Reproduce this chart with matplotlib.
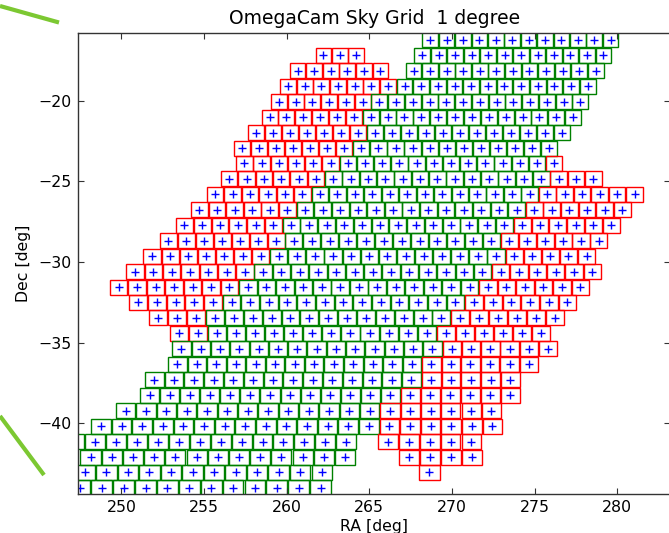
import numpy as np
import matplotlib
matplotlib.use("Agg")
import matplotlib.pyplot as plt
from matplotlib.patches import Rectangle
from matplotlib.lines import Line2D

# Sky grid rows: centre declination, RA of the first tile, and one code per tile
# ('r' / 'g' = tile outline colour, '.' = no tile at that grid position)
tile_dec = [
    -16.23, -17.19, -18.15, -19.10, -20.06, -21.02, -21.98, -22.94, -23.89, -24.85,
    -25.81, -26.77, -27.72, -28.68, -29.64, -30.60, -31.56, -32.51, -33.47, -34.43,
    -35.39, -36.35, -37.30, -38.26, -39.22, -40.18, -41.13, -42.09, -43.05, -44.01,
]
tile_ra_first = [
    268.685, 262.220, 260.662, 260.080, 259.530, 258.970, 258.153, 257.281, 257.447, 256.525,
    255.671, 254.716, 253.819, 252.847, 251.856, 250.833, 249.836, 251.020, 252.243, 253.472,
    253.637, 253.391, 251.994, 251.717, 250.271, 248.772, 247.164, 248.137, 247.792, 247.494,
]
tile_codes = [
    "g" * 12,
    "r" * 3 + "." * 3 + "g" * 12,
    "r" * 6 + "." + "g" * 12,
    "r" * 7 + "g" * 12,
    "r" * 6 + "g" * 13,
    "r" * 6 + "g" * 13,
    "r" * 7 + "g" * 12,
    "r" * 7 + "g" * 12,
    "r" * 6 + "g" * 12 + "r",
    "r" * 6 + "g" * 13 + "r" * 3,
    "r" * 6 + "g" * 13 + "r" * 6,
    "r" * 6 + "g" * 13 + "r" * 6,
    "r" * 6 + "g" * 13 + "r" * 6,
    "r" * 7 + "g" * 12 + "r" * 6,
    "r" * 7 + "g" * 13 + "r" * 5,
    "r" * 7 + "g" * 13 + "r" * 6,
    "r" * 7 + "g" * 13 + "r" * 6,
    "r" * 5 + "g" * 13 + "r" * 6,
    "r" * 3 + "g" * 13 + "r" * 6,
    "r" * 2 + "g" * 12 + "r" * 6,
    "g" * 14 + "r" * 6,
    "g" * 13 + "r" * 6,
    "g" * 14 + "r" * 5,
    "g" * 13 + "r" * 6,
    "g" * 13 + "r" * 6,
    "g" * 14 + "r" * 6,
    "g" * 14 + "." + "r" * 5,
    "g" * 13 + ".." + "r" * 4,
    "g" * 12 + "...." + "r",
    "g" * 12,
]

TILE_SIZE = 0.952          # tile side on the sky, degrees
BOX_FRAC_W = 0.95          # drawn outline width relative to RA spacing
BOX_H = 0.93               # drawn outline height, degrees
edge_colours = {"r": (1.0, 0.0, 0.0), "g": (0.0, 0.5, 0.0)}

xticks = [250, 255, 260, 265, 270, 275, 280]
yticks = [-20, -25, -30, -35, -40]

W, H = 669, 533
fig = plt.figure(figsize=(W / 100, H / 100), dpi=100)
fig.patch.set_facecolor("white")
ax = fig.add_axes([78.3 / W, 1 - 494 / H, (670 - 78.3) / W, (494 - 33.3) / H])

centres_ra, centres_dec = [], []
for dec, ra0, codes in zip(tile_dec, tile_ra_first, tile_codes):
    step = TILE_SIZE / np.cos(np.radians(dec))
    for i, c in enumerate(codes):
        if c == ".":
            continue
        ra = ra0 + i * step
        w = step * BOX_FRAC_W
        ax.add_patch(Rectangle((ra - w / 2, dec - BOX_H / 2), w, BOX_H,
                               fill=False, edgecolor=edge_colours[c], linewidth=1.0))
        centres_ra.append(ra)
        centres_dec.append(dec)

ax.plot(centres_ra, centres_dec, linestyle="none", marker="+", color="blue",
        markersize=5.5, markeredgewidth=1.0)

ax.set_xlim(247.396, 283.19)
ax.set_ylim(-44.383, -15.822)
ax.set_xticks(xticks)
ax.set_yticks(yticks)
ax.tick_params(direction="in", length=4, top=True, right=True, labelsize=11.3,
               color="#333333")
ax.tick_params(axis="x", pad=4)
ax.tick_params(axis="y", pad=5)
for sp in ax.spines.values():
    sp.set_color("#333333")
    sp.set_linewidth(1.0)

ax.set_xlabel("RA [deg]", fontsize=11.3, labelpad=3)
ax.set_ylabel("Dec [deg]", fontsize=11.3, labelpad=5)
ax.set_title("OmegaCam Sky Grid  1 degree", fontsize=13.5, pad=7)

# green slide accents in the left margin
green = "#7cc832"
fig.add_artist(Line2D([0 / W, 59 / W], [1 - 6 / H, 1 - 22.5 / H], color=green,
                      linewidth=3.0, solid_capstyle="butt"))
fig.add_artist(Line2D([0 / W, 44 / W], [1 - 416 / H, 1 - 475 / H], color=green,
                      linewidth=3.0, solid_capstyle="butt"))

fig.savefig("out.png", dpi=100, facecolor="white")
